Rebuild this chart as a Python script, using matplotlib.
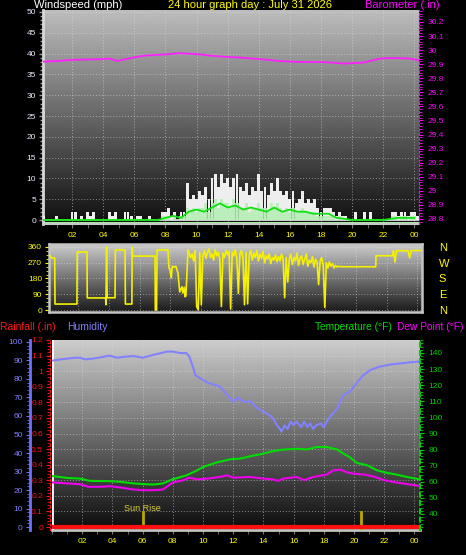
import numpy as np
import matplotlib
matplotlib.use("Agg")
import matplotlib.pyplot as plt
from matplotlib.ticker import MultipleLocator

plt.rcParams['font.family'] = ['Liberation Sans', 'DejaVu Sans']

# ---- data ----
hour_ticks = [2, 4, 6, 8, 10, 12, 14, 16, 18, 20, 22, 24]
hour_labels = ['02', '04', '06', '08', '10', '12', '14', '16', '18', '20', '22', '00']

# wind, one value every 0.2 h starting at 00:00
wind_step = 0.2
gust = [0, 1, 0, 0, 0, 1, 0, 0, 0, 0,
        2, 2, 0, 1, 0, 2, 1, 2, 0, 0,
        0, 0, 2, 1, 2, 0, 0, 2, 2, 1,
        0, 1, 1, 0, 0, 1, 0, 0, 0, 2,
        2, 3, 1, 2, 0, 2, 2, 9, 5, 6,
        5, 7, 6, 8, 5, 10, 11, 8, 11, 9,
        10, 8, 10, 11, 8, 7, 9, 6, 8, 7,
        11, 7, 8, 6, 9, 7, 10, 7, 6, 7,
        5, 7, 4, 5, 7, 4, 5, 4, 5, 3,
        2, 3, 3, 3, 2, 1, 2, 1, 1, 0,
        0, 2, 0, 0, 2, 0, 2, 0, 0, 0,
        0, 0, 0, 2, 2, 1, 2, 2, 1, 2,
        2, 1]
speed = [0, 0, 0, 0, 0, 0, 0, 0, 0, 0,
         0, 0, 0, 0, 0, 0, 0, 0, 0, 0,
         0, 0, 0, 0, 0, 0, 0, 0, 0, 0,
         0, 0, 0, 0, 0, 0, 0, 0, 0, 1,
         1, 1, 0, 1, 0, 1, 1, 3, 2, 3,
         2, 3, 3, 4, 2, 4, 5, 3, 5, 4,
         4, 3, 5, 4, 3, 3, 4, 2, 3, 3,
         4, 3, 3, 2, 4, 3, 4, 3, 2, 3,
         2, 3, 2, 2, 3, 2, 2, 2, 2, 1,
         1, 1, 1, 1, 1, 0, 1, 0, 0, 0,
         0, 0, 0, 0, 0, 0, 0, 0, 0, 0,
         0, 0, 0, 1, 1, 0, 1, 1, 0, 1,
         1, 0]
# average speed, every 0.5 h
avg_step = 0.5
avg = [0, 0, 0, 0, 0, 0, 0, 0,
       0, 0, 0, 0, 0, 0, 0, 0,
       0.5, 1, 0.5, 2, 2.5, 2, 3, 4,
       3, 3.5, 2.5, 3, 2.5, 2, 3, 2,
       2.5, 2, 2, 1.5, 1.5, 1.5, 0.5, 0.3,
       0, 0, 0, 0, 0, 0.3, 0.5, 0.5,
       0.5]

baro_t = [0.13, 1.2, 1.9, 3.8, 4.4, 4.9, 5.9, 6.6, 8.1, 8.9, 10.2, 10.9,
          12.2, 12.8, 14.7, 15.2, 16.5, 18.4, 19.5, 20.7, 21.8, 22.6, 23.7, 24.3]
baro = [29.918, 29.923, 29.93, 29.935, 29.94, 29.923, 29.946, 29.96, 29.97, 29.978, 29.97, 29.96,
        29.95, 29.947, 29.93, 29.923, 29.916, 29.914, 29.904, 29.911, 29.94, 29.944, 29.94, 29.927]

# wind direction
dir_a_t = [0.15, 0.3, 0.5, 0.52, 1.94, 1.96, 2.59, 2.61, 3.8, 3.82, 3.86, 3.9, 4.41, 4.43,
           5.06, 5.08, 5.5, 5.52, 5.55, 7.0, 7.02, 7.1, 7.13, 7.84, 7.9, 7.97, 8.05, 8.12,
           8.2, 8.35, 8.49, 8.6, 8.75, 8.8, 8.9, 8.94, 9.0, 9.14]
dir_a = [315, 297, 297, 34, 34, 331, 331, 69, 69, 30, 360, 70, 70, 343,
         343, 34, 34, 360, 308, 308, 0, 0, 343, 343, 240, 230, 183, 250,
         245, 250, 211, 103, 133, 97, 130, 76, 80, 343]
# 9.2 h .. 19.0 h, every 0.1 h
dir_noisy = [330, 300, 320, 280, 340, 20, 0, 330, 30, 310,
             340, 295, 330, 350, 300, 320, 285, 345, 310, 330,
             290, 20, 325, 300, 340, 315, 335, 5, 330, 310,
             345, 300, 95, 320, 340, 295, 30, 330, 35, 310,
             340, 285, 325, 300, 340, 280, 320, 295, 335, 270,
             310, 290, 320, 265, 300, 285, 315, 275, 305, 280,
             320, 290, 70, 300, 160, 290, 320, 260, 300, 280,
             325, 255, 295, 310, 260, 290, 320, 250, 285, 270,
             305, 245, 290, 275, 145, 280, 300, 255, 15, 270,
             240, 275, 250, 265, 240, 255, 245, 250, 248]
dir_c_t = [19.2, 21.3, 21.32, 22.4, 22.45, 22.55, 22.65, 23.4, 23.5, 23.6, 24.3]
dir_c = [247, 247, 310, 310, 339, 274, 339, 338, 297, 340, 340]
compass = ['N', 'E', 'S', 'W', 'N']

hum_t = [0.07, 0.5, 1.0, 1.5, 1.85, 2.2, 2.7, 3.2, 3.8, 4.3, 4.8, 5.4, 6.0, 6.7, 7.2,
         7.6, 8.0, 8.5, 8.9, 9.1, 9.35, 9.5, 9.8, 10.3, 10.7, 11.1, 11.6, 12.0, 12.3, 12.7,
         13.1, 13.6, 14.0, 14.4, 14.7, 14.9, 15.1, 15.2, 15.4, 15.6, 15.8, 16.0, 16.2, 16.5,
         16.7, 16.9, 17.1, 17.3, 17.5, 17.8, 18.0, 18.2, 18.4, 18.7, 18.9, 19.1, 19.3, 19.7,
         20.2, 20.6, 21.1, 21.7, 22.2, 22.6, 23.2, 23.7, 24.3]
hum = [90, 90.5, 91, 91.5, 91.5, 90.6, 91, 91.7, 92.6, 91.5, 92, 92.4, 91.5, 93, 94,
       94.8, 94.8, 94, 94, 92, 86, 82, 80.5, 78, 77, 76, 71.4, 67.8, 70, 67.6,
       68, 64.3, 62.3, 60.5, 58, 55, 53, 51.5, 55, 53, 57, 55, 57, 54,
       57, 54, 56, 53, 55, 56, 54, 57, 59.6, 62, 64.3, 68, 71.4, 73,
       78, 82, 84.9, 86.7, 87.5, 88, 88.5, 89, 89.4]

temp_t = [0.07, 1.0, 1.85, 2.5, 3.8, 4.5, 5.4, 6.0, 6.7, 7.35, 8.0, 8.9, 9.6, 10.0, 10.9,
          11.8, 12.45, 13.1, 14.0, 14.6, 15.3, 16.2, 16.9, 17.5, 18.2, 18.9, 19.3, 19.7,
          20.2, 20.9, 21.5, 22.2, 22.8, 23.5, 24.3]
temp = [63.5, 62.4, 62, 60.6, 60.4, 60, 59, 58.6, 58.3, 59, 61.6, 64, 67, 69.2, 72,
        74, 74.4, 75.8, 77.5, 79, 80, 80.5, 80.1, 81.6, 81.6, 80, 77.5, 75.4,
        71.7, 70.2, 67.2, 65.5, 64.5, 63, 61.6]

dew_t = [0.07, 1.0, 1.85, 2.4, 3.3, 3.8, 4.5, 5.4, 6.0, 6.7, 7.35, 8.0, 8.7, 9.1, 9.6,
         10.3, 11.1, 11.6, 12.0, 13.1, 14.0, 14.6, 15.0, 15.3, 16.2, 16.7, 17.3, 18.2,
         18.6, 19.1, 19.5, 20.0, 20.7, 21.4, 22.0, 22.8, 23.7, 24.3]
dew = [59.6, 59, 58.5, 56.9, 56.9, 57.3, 56.5, 55.2, 54.8, 54.8, 55.2, 59.6, 61, 62.6, 61.5,
       62, 63, 64, 62.6, 63, 62, 61.5, 60.6, 62, 63, 61, 63, 64.5,
       67, 67.6, 66, 65, 64.5, 63, 61, 59.6, 58.3, 57.5]

rain_t = [0.0, 24.37]
rain = [0.0, 0.0]

sun_times = [6.0, 20.46]
sun_labels = ['Sun Rise', '']

W, H = 466, 555


def box(x0, y0, x1, y1):
    return [x0 / W, 1 - y1 / H, (x1 - x0) / W, (y1 - y0) / H]


def backdrop(ax, top, bottom):
    g = np.linspace(top, bottom, 256).reshape(-1, 1)
    ax.imshow(g, aspect='auto', cmap='gray', vmin=0, vmax=1, extent=(0, 1, 0, 1),
              transform=ax.transAxes, zorder=0, interpolation='bilinear')


grid_kw = dict(color='#e0e0e0', linestyle=(0, (1, 2)), linewidth=0.7, alpha=0.55)
yellow = '#ffff00'

fig = plt.figure(figsize=(W / 100, H / 100), dpi=100, facecolor='black')

# ---------------- wind / barometer ----------------
ax_w = fig.add_axes(box(43, 10, 419, 224))
ax_w.set_facecolor('black')
backdrop(ax_w, 0.74, 0.06)
wind_t = np.arange(len(gust)) * wind_step
avg_t = np.arange(len(avg)) * avg_step
ax_w.axhline(-0.6, color='#a0eea0', lw=2.2, zorder=2)
ax_w.axhline(0, color='#e8e8e8', lw=1.2, zorder=2)
ax_w.bar(wind_t, gust, width=0.18, color='#eeeeee', edgecolor='none', zorder=3)
ax_w.bar(wind_t, speed, width=0.2, color='#b4eeb4', edgecolor='none', alpha=0.85, zorder=4)
ax_w.plot(avg_t, avg, color='#10e010', lw=1.3, zorder=5)
ax_w.set_xlim(0.13, 24.3)
ax_w.set_ylim(-0.96, 50.48)
ax_w.set_yticks(range(0, 51, 5))
ax_w.yaxis.set_minor_locator(MultipleLocator(1))
ax_w.set_xticks(hour_ticks)
ax_w.set_xticklabels(hour_labels)
ax_w.xaxis.set_minor_locator(MultipleLocator(1))
ax_w.tick_params(axis='y', which='both', colors='#9a9a9a', labelcolor='#e4ecff',
                 labelsize=6, length=3, width=1, pad=2)
ax_w.tick_params(axis='y', which='minor', length=2)
ax_w.tick_params(axis='x', which='both', colors='#7a7a7a', labelcolor=yellow,
                 labelsize=6, length=3, pad=3)
ax_w.grid(True, which='major', **grid_kw)
for s in ['top', 'right']:
    ax_w.spines[s].set_visible(False)
ax_w.spines['left'].set_color('#d8d8d8')
ax_w.spines['left'].set_linewidth(2)
ax_w.spines['bottom'].set_color('#c8c8c8')
ax_w.spines['bottom'].set_linewidth(1.5)

ax_b = ax_w.twinx()
ax_b.plot(baro_t, baro, color='#ff20ff', lw=1.3, zorder=6)
ax_b.set_ylim(28.764, 30.285)
bticks = np.round(np.arange(28.8, 30.25, 0.1), 1)
ax_b.set_yticks(bticks)
ax_b.set_yticklabels(['%g' % v for v in bticks])
ax_b.yaxis.set_minor_locator(MultipleLocator(0.02))
ax_b.tick_params(axis='y', which='both', colors='#ff00ff', labelcolor='#ff00ff',
                 labelsize=6, length=3, pad=3)
ax_b.tick_params(axis='y', which='minor', length=2)
for s in ['top', 'left', 'bottom']:
    ax_b.spines[s].set_visible(False)
ax_b.spines['right'].set_color('#ff00ff')
ax_b.spines['right'].set_linestyle((0, (2, 2)))

fig.text(34 / W, 1 - 5 / H, 'Windspeed (mph)', color='white', fontsize=8, va='center')
fig.text(250 / W, 1 - 5 / H, '24 hour graph day : July 31 2026', color=yellow,
         fontsize=8, va='center', ha='center')
fig.text(440 / W, 1 - 5 / H, 'Barometer (.in)', color='#ff00ff', fontsize=8,
         va='center', ha='right')

# ---------------- wind direction ----------------
ax_d = fig.add_axes(box(49, 244, 422, 312))
ax_d.set_facecolor('black')
backdrop(ax_d, 0.80, 0.10)
dir_t = np.concatenate([dir_a_t, np.linspace(9.2, 19.0, len(dir_noisy)), dir_c_t])
dir_v = np.concatenate([dir_a, dir_noisy, dir_c])
ax_d.plot(dir_t, dir_v, color='#f4f000', lw=1.2, zorder=5)
ax_d.set_xlim(0.13, 24.3)
ax_d.set_ylim(-11.4, 377)
ax_d.set_yticks([0, 90, 180, 270, 360])
ax_d.yaxis.set_minor_locator(MultipleLocator(22.5))
ax_d.set_xticks(hour_ticks)
ax_d.tick_params(axis='x', which='both', length=0, labelbottom=False)
ax_d.tick_params(axis='y', which='both', colors=yellow, labelcolor=yellow,
                 labelsize=6, length=3, pad=2)
ax_d.tick_params(axis='y', which='minor', length=2)
ax_d.grid(True, which='major', **grid_kw)
for s in ax_d.spines.values():
    s.set_color('#c4c4c4')
    s.set_linewidth(1.8)

ax_d2 = ax_d.twinx()
ax_d2.set_ylim(-11.4, 377)
ax_d2.set_yticks([0, 90, 180, 270, 360])
ax_d2.set_yticklabels(compass)
ax_d2.tick_params(axis='y', length=0, labelcolor=yellow, labelsize=8, pad=12)
for s in ax_d2.spines.values():
    s.set_visible(False)

# ---------------- rain / humidity / temperature ----------------
ax_r = fig.add_axes(box(52, 340, 420, 530))
ax_r.set_facecolor('black')
backdrop(ax_r, 0.80, 0.05)
ax_r.set_xlim(0, 24.37)
ax_r.set_ylim(-0.019, 1.2)
ax_r.axvline(0, color='white', lw=2, zorder=3)
ax_r.plot(rain_t, rain, color='#ff1010', lw=3, zorder=7, solid_capstyle='butt')
for st, lab in zip(sun_times, sun_labels):
    ax_r.axvline(st, ymin=0, ymax=0.095, color='#b8a800', lw=2, zorder=6)
    if lab:
        ax_r.text(st, 0.115, lab, transform=ax_r.get_xaxis_transform(), color='#d8d040',
                  fontsize=6.5, ha='center', va='center', zorder=8)
rticks = np.round(np.arange(0, 1.25, 0.1), 1)
ax_r.set_yticks(rticks)
ax_r.set_yticklabels(['%g' % v for v in rticks])
ax_r.yaxis.set_minor_locator(MultipleLocator(0.02))
ax_r.set_xticks(hour_ticks)
ax_r.set_xticklabels(hour_labels)
ax_r.xaxis.set_minor_locator(MultipleLocator(1))
ax_r.tick_params(axis='y', which='both', colors='#ff1010', labelcolor='#ff1010',
                 labelsize=6, length=3, pad=2)
ax_r.tick_params(axis='y', which='minor', length=2)
ax_r.tick_params(axis='x', which='both', colors='#7a7a7a', labelcolor=yellow,
                 labelsize=6, length=3, pad=3)
ax_r.grid(True, which='major', **grid_kw)
for s in ['top', 'right']:
    ax_r.spines[s].set_visible(False)
ax_r.spines['left'].set_color('#ff1010')
ax_r.spines['left'].set_linestyle((0, (2, 2)))
ax_r.spines['left'].set_position(('outward', 1.5))
ax_r.spines['bottom'].set_color('#c0c0c0')
ax_r.spines['bottom'].set_linewidth(2)

ax_h = ax_r.twinx()
ax_h.plot(hum_t, hum, color='#8282ff', lw=1.5, zorder=5)
ax_h.set_ylim(-1.62, 101.08)
ax_h.set_yticks(range(0, 101, 10))
ax_h.yaxis.set_minor_locator(MultipleLocator(2))
ax_h.yaxis.set_ticks_position('left')
ax_h.yaxis.set_label_position('left')
ax_h.spines['left'].set_position(('outward', 16))
ax_h.spines['left'].set_color('#7070ff')
ax_h.spines['left'].set_linewidth(2)
for s in ['top', 'right', 'bottom']:
    ax_h.spines[s].set_visible(False)
ax_h.tick_params(axis='y', which='both', colors='#7070ff', labelcolor='#8080ff',
                 labelsize=6, length=3, pad=2)
ax_h.tick_params(axis='y', which='minor', length=2)

ax_t = ax_r.twinx()
ax_t.plot(temp_t, temp, color='#00dd00', lw=1.5, zorder=5)
ax_t.plot(dew_t, dew, color='#ee00ee', lw=1.5, zorder=5)
ax_t.set_ylim(30.06, 148.07)
ax_t.set_yticks(range(40, 141, 10))
ax_t.yaxis.set_minor_locator(MultipleLocator(2))
for s in ['top', 'left', 'bottom']:
    ax_t.spines[s].set_visible(False)
ax_t.spines['right'].set_color('#00cc00')
ax_t.spines['right'].set_linestyle((0, (2, 2)))
ax_t.spines['right'].set_linewidth(1.5)
ax_t.tick_params(axis='y', which='both', colors='#00cc00', labelcolor='#00cc00',
                 labelsize=6, length=3, pad=3)
ax_t.tick_params(axis='y', which='minor', length=2)

hy = 1 - 327 / H
fig.text(0, hy, 'Rainfall (.in)', color='#ff1a1a', fontsize=7.5, va='center')
fig.text(67 / W, hy, 'Humidity', color='#8080ff', fontsize=7.5, va='center')
fig.text(392 / W, hy, 'Temperature (°F)', color='#00dd00', fontsize=7.3, va='center',
         ha='right')
fig.text(463 / W, hy, 'Dew Point (°F)', color='#ff00ff', fontsize=7.3, va='center',
         ha='right')

fig.savefig('out.png', dpi=100, facecolor='black')
